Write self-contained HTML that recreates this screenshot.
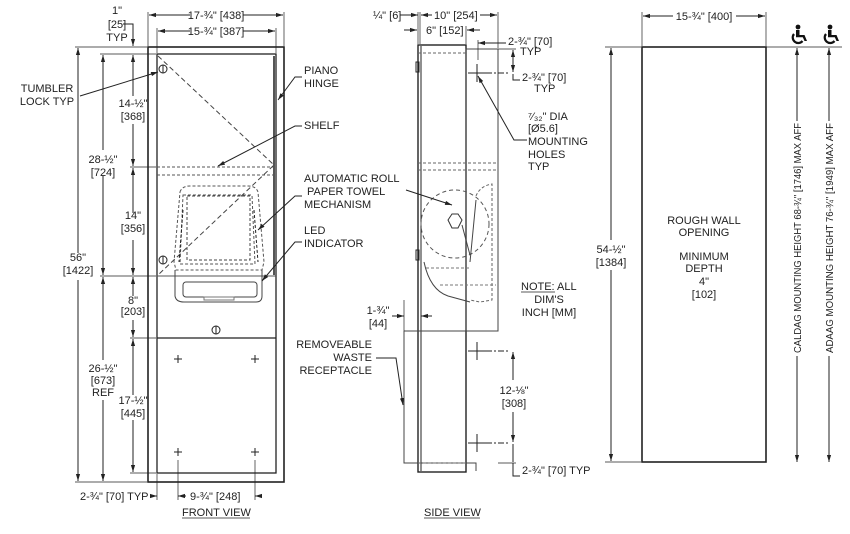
<!DOCTYPE html>
<html><head><meta charset="utf-8"><style>
html,body{margin:0;padding:0;background:#fff}
svg{display:block}
text{font-family:"Liberation Sans",Arial,sans-serif;font-size:11px;fill:#222}
</style></head><body>
<svg width="850" height="534" viewBox="0 0 850 534" xmlns="http://www.w3.org/2000/svg">
<defs>
<marker id="a" viewBox="0 0 10 10" refX="10" refY="5" markerWidth="7" markerHeight="7" orient="auto-start-reverse" markerUnits="userSpaceOnUse"><path d="M0,2 L10,5 L0,8 z" fill="#222"/></marker>
</defs>
<g stroke="#222" fill="none" stroke-width="1">
<rect x="148" y="47" width="136" height="435" stroke-width="1.6"/>
<rect x="157" y="54" width="119" height="419" stroke-width="1.3"/>
<line x1="274" y1="56" x2="274" y2="275" stroke-width="2" stroke="#555"/>
<line x1="157" y1="167" x2="276" y2="167" stroke-dasharray="3,2" stroke="#555"/>
<line x1="157" y1="175" x2="276" y2="175" stroke-dasharray="3,2" stroke="#555"/>
<line x1="157" y1="276" x2="276" y2="276" stroke="#555"/>
<line x1="157" y1="338" x2="276" y2="338" stroke-width="1.3"/>
<path d="M158,56 L274,165 L158,275" stroke-dasharray="5,3" stroke="#444"/>
<path d="M180,192 Q182,186 190,186 L248,186 Q256,186 258,192 L264,262 L262,270 L176,270 L174,262 Z" stroke-dasharray="3,2" stroke="#555"/>
<path d="M183,195 L252,195 L255,264 L180,264 Z" stroke-dasharray="3,2" stroke="#555"/>
<rect x="187" y="196" width="63" height="64" stroke-dasharray="3,2" stroke="#444"/>
<path d="M183,210 L179,262 M254,210 L258,262" stroke-dasharray="3,2"/>
<path d="M175,270 L175,296 Q176,302 184,302 L256,302 Q262,302 262,296 L262,270" stroke="#444"/>
<rect x="183" y="282" width="74" height="15" rx="3" stroke="#444"/>
<rect x="204" y="297" width="30" height="3" stroke="#777"/>
<circle cx="163" cy="69" r="4"/><line x1="163" y1="65" x2="163" y2="73"/>
<circle cx="163" cy="260" r="4"/><line x1="163" y1="256" x2="163" y2="264"/>
<circle cx="216" cy="330" r="4"/><line x1="216" y1="326" x2="216" y2="334"/>
<g stroke-width="1"><path d="M174,359h8M178,355v8M251,359h8M255,355v8M174,452h8M178,448v8M251,452h8M255,448v8"/></g>
<line x1="148" y1="12" x2="148" y2="46" stroke-width=".7"/><line x1="284" y1="12" x2="284" y2="46" stroke-width=".7"/>
<line x1="149" y1="15" x2="190" y2="15" marker-start="url(#a)"/><line x1="243" y1="15" x2="283" y2="15" marker-end="url(#a)"/>
<line x1="157" y1="28" x2="157" y2="53" stroke-width=".7"/><line x1="276" y1="28" x2="276" y2="53" stroke-width=".7"/>
<line x1="158" y1="31" x2="190" y2="31" marker-start="url(#a)"/><line x1="243" y1="31" x2="275" y2="31" marker-end="url(#a)"/>
<path d="M123,24 L133,24 L133,46" marker-end="url(#a)"/>
<line x1="75" y1="47" x2="147" y2="47" stroke-width=".7"/>
<line x1="100" y1="54" x2="156" y2="54" stroke-width=".7"/>
<line x1="78" y1="48" x2="78" y2="253" marker-start="url(#a)"/><line x1="78" y1="280" x2="78" y2="481" marker-end="url(#a)"/>
<line x1="103" y1="55" x2="103" y2="150" marker-start="url(#a)"/><line x1="103" y1="176" x2="103" y2="275" marker-end="url(#a)"/>
<line x1="103" y1="277" x2="103" y2="360" marker-start="url(#a)"/><line x1="103" y1="400" x2="103" y2="481" marker-end="url(#a)"/>
<line x1="75" y1="482" x2="147" y2="482" stroke-width=".7"/>
<line x1="100" y1="276" x2="156" y2="276" stroke-width=".7"/>
<line x1="130" y1="167" x2="156" y2="167" stroke-width=".7"/>
<line x1="130" y1="338" x2="156" y2="338" stroke-width=".7"/>
<line x1="130" y1="473" x2="156" y2="473" stroke-width=".7"/>
<line x1="133" y1="55" x2="133" y2="96" marker-start="url(#a)"/><line x1="133" y1="124" x2="133" y2="166" marker-end="url(#a)"/>
<line x1="133" y1="168" x2="133" y2="213" marker-start="url(#a)"/><line x1="133" y1="240" x2="133" y2="275" marker-end="url(#a)"/>
<line x1="133" y1="277" x2="133" y2="296" marker-start="url(#a)"/><line x1="133" y1="320" x2="133" y2="337" marker-end="url(#a)"/>
<line x1="133" y1="339" x2="133" y2="395" marker-start="url(#a)"/><line x1="133" y1="420" x2="133" y2="472" marker-end="url(#a)"/>
<line x1="157" y1="474" x2="157" y2="500" stroke-width=".7"/><line x1="178" y1="460" x2="178" y2="500" stroke-width=".7"/><line x1="255" y1="460" x2="255" y2="500" stroke-width=".7"/>
<line x1="150" y1="496" x2="157" y2="496" marker-end="url(#a)"/><line x1="186" y1="496" x2="178" y2="496" marker-end="url(#a)"/>
<line x1="262" y1="496" x2="255" y2="496" marker-end="url(#a)"/>
<line x1="182" y1="518" x2="250" y2="518" stroke-width=".8"/>
<path d="M80,96 L158,72" marker-end="url(#a)"/>
<path d="M302,77 L295,77 L278,100" marker-end="url(#a)"/>
<path d="M302,126 L295,126 L218,166" marker-end="url(#a)"/>
<path d="M302,196 L295,196 L258,230" marker-end="url(#a)"/>
<path d="M302,242 L295,242 L262,281" marker-end="url(#a)"/>
<rect x="418" y="45" width="48" height="427" stroke-width="1.4"/>
<line x1="421" y1="46" x2="421" y2="471"/>
<rect x="466" y="49" width="32" height="282" stroke="#444"/>
<path d="M404,331 L498,331" stroke="#444"/>
<path d="M404,331 L404,463 L476,463 L476,471" stroke="#444"/>
<line x1="418" y1="53" x2="466" y2="53" stroke-dasharray="3,2" stroke="#666"/>
<line x1="418" y1="163" x2="498" y2="163" stroke-dasharray="3,2" stroke="#666"/>
<line x1="418" y1="170" x2="498" y2="170" stroke-dasharray="3,2" stroke="#666"/>
<line x1="418" y1="463" x2="466" y2="463" stroke-dasharray="3,2" stroke="#666"/>
<rect x="416" y="62" width="3" height="10"/><rect x="416" y="250" width="3" height="10"/>
<circle cx="455" cy="224" r="34" stroke-dasharray="4,3" stroke="#555"/>
<path d="M448,220 l4,-6 h6 l4,6 l-4,8 h-6 z" stroke="#333"/>
<path d="M462,225 L470,255 M476,200 L470,262" stroke="#444"/>
<path d="M476,196 Q480,186 492,184 L492,300 L480,302 L470,300" stroke-dasharray="3,2" stroke="#666"/>
<path d="M424,262 Q430,290 448,296 L470,302" stroke="#444"/>
<path d="M426,268 L470,268 M440,285 L496,285" stroke-dasharray="3,2" stroke="#777"/>
<path d="M468,73 h18 M477,64 v18" /><line x1="486" y1="73" x2="510" y2="73" stroke-dasharray="6,2,2,2"/>
<path d="M468,351 h18 M477,342 v18" /><line x1="486" y1="351" x2="510" y2="351" stroke-dasharray="6,2,2,2"/>
<path d="M468,443 h18 M477,434 v18" /><line x1="486" y1="443" x2="510" y2="443" stroke-dasharray="6,2,2,2"/>
<line x1="498" y1="49" x2="516" y2="49" stroke-width=".7"/>
<line x1="498" y1="463" x2="516" y2="463" stroke-width=".7"/>
<line x1="513" y1="50" x2="513" y2="72" marker-start="url(#a)" marker-end="url(#a)"/>
<line x1="513" y1="352" x2="513" y2="380" marker-start="url(#a)"/><line x1="513" y1="412" x2="513" y2="442" marker-end="url(#a)"/>
<path d="M513,444 L513,462 M513,463 L513,476 L520,476"/>
<path d="M513,74 L513,80 L520,80"/>
<line x1="418" y1="12" x2="418" y2="44" stroke-width=".7"/><line x1="420" y1="12" x2="420" y2="44" stroke-width=".7"/>
<line x1="466" y1="26" x2="466" y2="44" stroke-width=".7"/><line x1="498" y1="12" x2="498" y2="48" stroke-width=".7"/>
<line x1="400" y1="15" x2="418" y2="15" marker-end="url(#a)"/><line x1="432" y1="15" x2="421" y2="15" marker-end="url(#a)"/>
<line x1="480" y1="15" x2="497" y2="15" marker-end="url(#a)"/>
<line x1="404" y1="30" x2="417" y2="30" marker-end="url(#a)"/><line x1="480" y1="30" x2="467" y2="30" marker-end="url(#a)"/>
<line x1="506" y1="43" x2="478" y2="43" marker-end="url(#a)"/>
<line x1="478" y1="40" x2="478" y2="60" stroke-width=".7"/>
<path d="M527,140 L514,140 L478,76" marker-end="url(#a)"/>
<line x1="404" y1="300" x2="404" y2="331" stroke-width=".7"/>
<line x1="392" y1="316" x2="404" y2="316" marker-end="url(#a)"/><line x1="432" y1="316" x2="421" y2="316" marker-end="url(#a)"/>
<path d="M376,358 L396,358 L403,405" marker-end="url(#a)"/>
<path d="M406,190 L452,205" marker-end="url(#a)"/>
<line x1="424" y1="518" x2="480" y2="518" stroke-width=".8"/>
<line x1="521" y1="292" x2="555" y2="292" stroke-width=".8"/>
<rect x="642" y="47" width="124" height="415" stroke-width="1.6"/>
<line x1="642" y1="12" x2="642" y2="46" stroke-width=".7"/><line x1="766" y1="12" x2="766" y2="46" stroke-width=".7"/>
<line x1="643" y1="16" x2="673" y2="16" marker-start="url(#a)"/><line x1="736" y1="16" x2="765" y2="16" marker-end="url(#a)"/>
<line x1="605" y1="47" x2="641" y2="47" stroke-width=".7"/><line x1="605" y1="462" x2="641" y2="462" stroke-width=".7"/>
<line x1="611" y1="48" x2="611" y2="240" marker-start="url(#a)"/><line x1="611" y1="270" x2="611" y2="461" marker-end="url(#a)"/>
<line x1="766" y1="47" x2="842" y2="47" stroke-width=".8"/>
<line x1="797" y1="48" x2="797" y2="121" marker-start="url(#a)"/><line x1="797" y1="356" x2="797" y2="462" marker-end="url(#a)"/>
<line x1="829" y1="48" x2="829" y2="121" marker-start="url(#a)"/><line x1="829" y1="356" x2="829" y2="462" marker-end="url(#a)"/>
</g>
<g fill="#111" stroke="none">
<circle cx="798" cy="27" r="2.4"/><path d="M796,30 h3.5 v5 h5 l2.5,6 h-2.5 l-1.7,-3.8 h-6.8z"/>
<circle cx="830" cy="27" r="2.4"/><path d="M828,30 h3.5 v5 h5 l2.5,6 h-2.5 l-1.7,-3.8 h-6.8z"/>
</g>
<g fill="none" stroke="#111" stroke-width="2.2"><path d="M794,34 a5.5,5.5 0 1 0 8.5,7"/><path d="M826,34 a5.5,5.5 0 1 0 8.5,7"/></g>
<text x="216" y="19" text-anchor="middle">17-¾" [438]</text>
<text x="216" y="35" text-anchor="middle">15-¾" [387]</text>
<text x="117" y="14" text-anchor="middle">1"</text>
<text x="117" y="28" text-anchor="middle">[25]</text>
<text x="117" y="41" text-anchor="middle">TYP</text>
<text x="47" y="92" text-anchor="middle">TUMBLER</text>
<text x="47" y="105" text-anchor="middle">LOCK TYP</text>
<text x="133" y="107" text-anchor="middle">14-½"</text>
<text x="133" y="120" text-anchor="middle">[368]</text>
<text x="103" y="163" text-anchor="middle">28-½"</text>
<text x="103" y="176" text-anchor="middle">[724]</text>
<text x="133" y="219" text-anchor="middle">14"</text>
<text x="133" y="232" text-anchor="middle">[356]</text>
<text x="78" y="261" text-anchor="middle">56"</text>
<text x="78" y="274" text-anchor="middle">[1422]</text>
<text x="133" y="304" text-anchor="middle">8"</text>
<text x="133" y="315" text-anchor="middle">[203]</text>
<text x="103" y="372" text-anchor="middle">26-½"</text>
<text x="103" y="384" text-anchor="middle">[673]</text>
<text x="103" y="396" text-anchor="middle">REF</text>
<text x="133" y="404" text-anchor="middle">17-½"</text>
<text x="133" y="417" text-anchor="middle">[445]</text>
<text x="80" y="500">2-¾" [70] TYP</text>
<text x="190" y="500">9-¾" [248]</text>
<text x="182" y="516">FRONT VIEW</text>
<text x="304" y="74">PIANO</text>
<text x="304" y="87">HINGE</text>
<text x="304" y="129">SHELF</text>
<text x="304" y="182">AUTOMATIC ROLL</text>
<text x="307" y="195">PAPER TOWEL</text>
<text x="304" y="208">MECHANISM</text>
<text x="304" y="234">LED</text>
<text x="304" y="247">INDICATOR</text>
<text x="373" y="19">¼" [6]</text>
<text x="434" y="19">10" [254]</text>
<text x="426" y="34">6" [152]</text>
<text x="508" y="45">2-¾" [70]</text>
<text x="520" y="55">TYP</text>
<text x="522" y="81">2-¾" [70]</text>
<text x="534" y="92">TYP</text>
<text x="528" y="120">⁷⁄₃₂" DIA</text>
<text x="528" y="132">[Ø5.6]</text>
<text x="528" y="145">MOUNTING</text>
<text x="528" y="158">HOLES</text>
<text x="528" y="170">TYP</text>
<text x="521" y="290">NOTE: ALL</text>
<text x="549" y="303" text-anchor="middle">DIM'S</text>
<text x="549" y="316" text-anchor="middle">INCH [MM]</text>
<text x="378" y="314" text-anchor="middle">1-¾"</text>
<text x="378" y="327" text-anchor="middle">[44]</text>
<text x="372" y="348" text-anchor="end">REMOVEABLE</text>
<text x="372" y="361" text-anchor="end">WASTE</text>
<text x="372" y="374" text-anchor="end">RECEPTACLE</text>
<text x="514" y="394" text-anchor="middle">12-⅛"</text>
<text x="514" y="407" text-anchor="middle">[308]</text>
<text x="522" y="474">2-¾" [70] TYP</text>
<text x="424" y="516">SIDE VIEW</text>
<text x="704" y="20" text-anchor="middle">15-¾" [400]</text>
<text x="611" y="253" text-anchor="middle">54-½"</text>
<text x="611" y="266" text-anchor="middle">[1384]</text>
<text x="704" y="224" text-anchor="middle">ROUGH WALL</text>
<text x="704" y="236" text-anchor="middle">OPENING</text>
<text x="704" y="260" text-anchor="middle">MINIMUM</text>
<text x="704" y="272" text-anchor="middle">DEPTH</text>
<text x="704" y="285" text-anchor="middle">4"</text>
<text x="704" y="298" text-anchor="middle">[102]</text>
<text transform="translate(801,238) rotate(-90)" text-anchor="middle" textLength="230" lengthAdjust="spacingAndGlyphs" style="font-size:10px">CALDAG MOUNTING HEIGHT 68-¾" [1746] MAX AFF</text>
<text transform="translate(833,238) rotate(-90)" text-anchor="middle" textLength="230" lengthAdjust="spacingAndGlyphs" style="font-size:10px">ADAAG MOUNTING HEIGHT 76-¾" [1949] MAX AFF</text>
</svg>
</body></html>
